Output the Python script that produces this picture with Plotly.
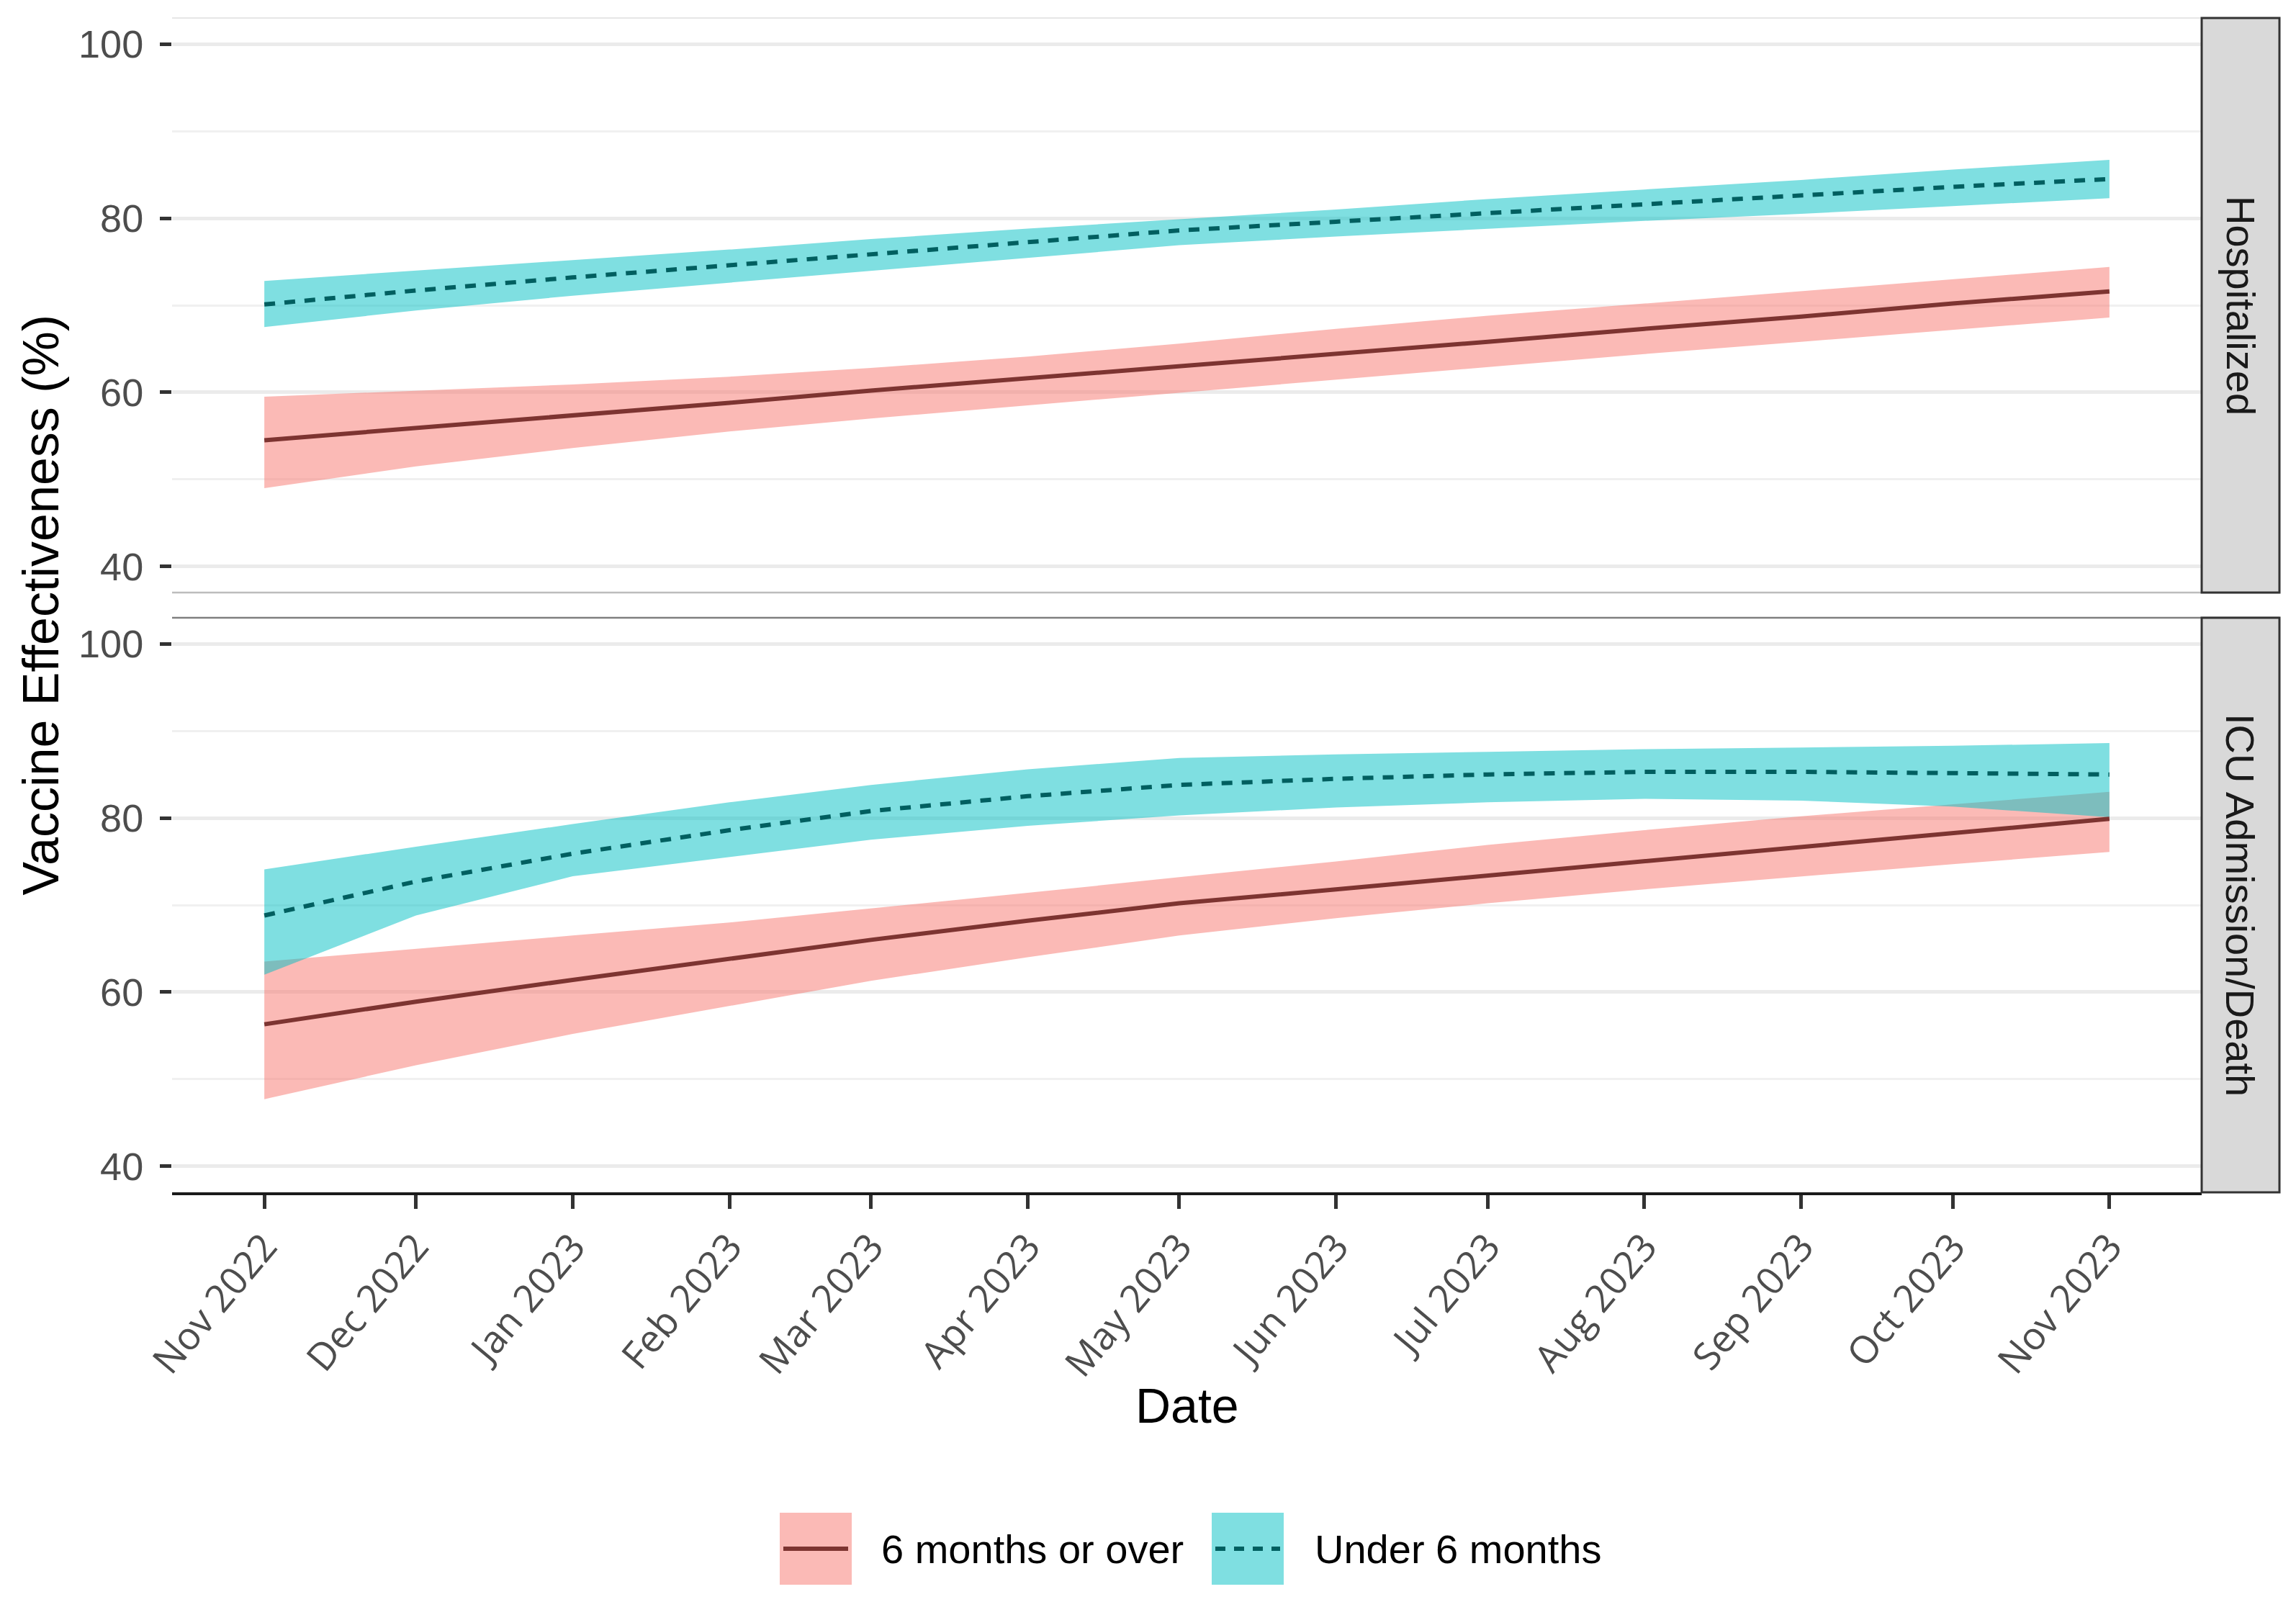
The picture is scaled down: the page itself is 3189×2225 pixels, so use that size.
import plotly.graph_objects as go

# ---------------- data ----------------
dates = ["2022-11-01", "2022-12-01", "2023-01-01", "2023-02-01", "2023-03-01",
         "2023-04-01", "2023-05-01", "2023-06-01", "2023-07-01", "2023-08-01",
         "2023-09-01", "2023-10-01", "2023-11-01"]
month_labels = ["Nov 2022", "Dec 2022", "Jan 2023", "Feb 2023", "Mar 2023",
                "Apr 2023", "May 2023", "Jun 2023", "Jul 2023", "Aug 2023",
                "Sep 2023", "Oct 2023", "Nov 2023"]

# Hospitalized panel
hosp_over6_est = [54.5, 55.9, 57.3, 58.8, 60.2, 61.6, 63.0, 64.4, 65.8, 67.3, 68.7, 70.2, 71.6]
hosp_over6_lo = [49.0, 51.5, 53.6, 55.5, 57.0, 58.5, 60.0, 61.5, 62.9, 64.4, 65.8, 67.2, 68.6]
hosp_over6_hi = [59.5, 60.2, 60.9, 61.8, 62.8, 64.1, 65.6, 67.3, 68.8, 70.2, 71.6, 73.0, 74.4]
hosp_under6_est = [70.1, 71.7, 73.2, 74.6, 75.9, 77.3, 78.6, 79.6, 80.6, 81.6, 82.6, 83.6, 84.5]
hosp_under6_lo = [67.5, 69.4, 71.1, 72.6, 74.0, 75.5, 76.9, 77.9, 78.8, 79.7, 80.5, 81.4, 82.3]
hosp_under6_hi = [72.8, 74.0, 75.2, 76.4, 77.6, 78.8, 79.9, 81.0, 82.2, 83.3, 84.4, 85.6, 86.7]

# ICU Admission/Death panel
icu_over6_est = [56.3, 58.9, 61.4, 63.8, 66.0, 68.2, 70.2, 71.8, 73.4, 75.1, 76.7, 78.3, 79.9]
icu_over6_lo = [47.7, 51.6, 55.2, 58.4, 61.3, 64.0, 66.5, 68.5, 70.2, 71.8, 73.3, 74.7, 76.1]
icu_over6_hi = [63.5, 65.0, 66.5, 68.0, 69.6, 71.4, 73.2, 75.0, 76.9, 78.6, 80.2, 81.6, 83.0]
icu_under6_est = [68.8, 72.7, 75.9, 78.6, 80.8, 82.5, 83.8, 84.5, 85.0, 85.3, 85.3, 85.2, 85.0]
icu_under6_lo = [62.0, 68.8, 73.3, 75.5, 77.5, 79.1, 80.3, 81.2, 81.8, 82.2, 82.0, 81.3, 80.1]
icu_under6_hi = [74.1, 76.7, 79.3, 81.8, 83.8, 85.6, 86.9, 87.3, 87.6, 87.9, 88.1, 88.3, 88.6]

series_names = ["6 months or over", "Under 6 months"]
panel_names = ["Hospitalized", "ICU Admission/Death"]
y_ticks = [40, 60, 80, 100]
y_minor = [50, 70, 90]

# ---------------- style ----------------
OFF = 8                      # browser body margin
W, H = 3189 - 2 * OFF, 2225 - 2 * OFF
RED_FILL = "rgba(248,118,109,0.5)"
TEAL_FILL = "rgba(0,191,196,0.5)"
RED_LINE = "#7D3431"
TEAL_LINE = "#005F60"
DASH = "15px,13px"
LW = 6

def px(x):
    return (x - OFF) / W

def py(y):
    return 1 - (y - OFF) / H

PL, PR = 239, 3058          # panel left/right (px, screenshot coords)
STRIP_R = 3166
TOP_T, TOP_B = 25, 823
BOT_T, BOT_B = 858, 1656

fig = go.Figure()

def add_panel(xa, ya, over_lo, over_hi, over_est, under_lo, under_hi, under_est):
    # ribbons: red first, teal on top
    fig.add_trace(go.Scatter(x=dates, y=over_lo, mode="lines", line=dict(width=0),
                             xaxis=xa, yaxis=ya, showlegend=False, hoverinfo="skip"))
    fig.add_trace(go.Scatter(x=dates, y=over_hi, mode="lines", line=dict(width=0),
                             fill="tonexty", fillcolor=RED_FILL,
                             xaxis=xa, yaxis=ya, showlegend=False, hoverinfo="skip"))
    fig.add_trace(go.Scatter(x=dates, y=under_lo, mode="lines", line=dict(width=0),
                             xaxis=xa, yaxis=ya, showlegend=False, hoverinfo="skip"))
    fig.add_trace(go.Scatter(x=dates, y=under_hi, mode="lines", line=dict(width=0),
                             fill="tonexty", fillcolor=TEAL_FILL,
                             xaxis=xa, yaxis=ya, showlegend=False, hoverinfo="skip"))
    fig.add_trace(go.Scatter(x=dates, y=over_est, mode="lines", name=series_names[0],
                             line=dict(color=RED_LINE, width=LW),
                             xaxis=xa, yaxis=ya, showlegend=False))
    fig.add_trace(go.Scatter(x=dates, y=under_est, mode="lines", name=series_names[1],
                             line=dict(color=TEAL_LINE, width=LW, dash=DASH),
                             xaxis=xa, yaxis=ya, showlegend=False))

add_panel("x2", "y2", hosp_over6_lo, hosp_over6_hi, hosp_over6_est,
          hosp_under6_lo, hosp_under6_hi, hosp_under6_est)
add_panel("x", "y", icu_over6_lo, icu_over6_hi, icu_over6_est,
          icu_under6_lo, icu_under6_hi, icu_under6_est)

xrange = ["2022-10-13 18:00", "2023-11-19 06:00"]

yax_common = dict(
    range=[37, 103], tickvals=y_ticks, ticks="outside", ticklen=16, tickwidth=4.5,
    tickcolor="#333333", showgrid=True, gridcolor="#EBEBEB", gridwidth=4.5,
    zeroline=False, showline=False, automargin=False, ticklabelstandoff=12,
    tickfont=dict(family="Liberation Sans, Arial", size=54, color="#4D4D4D"),
    minor=dict(tickvals=y_minor, showgrid=True, gridcolor="#F0F0F0", gridwidth=2.5, ticks=""),
    fixedrange=True,
)

fig.update_layout(
    width=W, height=H, autosize=False,
    margin=dict(l=0, r=0, t=0, b=0),
    paper_bgcolor="white", plot_bgcolor="white",
    showlegend=False,
    xaxis=dict(
        domain=[px(PL), px(PR)], anchor="y", type="date", range=xrange,
        tickvals=dates, ticktext=month_labels, tickangle=-50,
        ticks="outside", ticklen=19, tickwidth=4.5, tickcolor="#333333",
        showline=True, linecolor="#1A1A1A", linewidth=4,
        showgrid=False, zeroline=False, automargin=False,
        tickfont=dict(family="Open Sans", size=53, color="#4D4D4D"),
    ),
    xaxis2=dict(
        domain=[px(PL), px(PR)], anchor="y2", type="date", range=xrange,
        matches="x", showticklabels=False, ticks="", showline=False,
        showgrid=False, zeroline=False, automargin=False,
    ),
    yaxis=dict(domain=[py(BOT_B), py(BOT_T)], anchor="x", **yax_common),
    yaxis2=dict(domain=[py(TOP_B), py(TOP_T)], anchor="x2", **yax_common),
)

shapes = []
# panel separators
shapes.append(dict(type="line", xref="paper", yref="paper", x0=px(PL), x1=px(STRIP_R),
                   y0=py(TOP_T), y1=py(TOP_T), line=dict(color="#E6E6E6", width=2)))
shapes.append(dict(type="line", xref="paper", yref="paper", x0=px(PL), x1=px(STRIP_R),
                   y0=py(TOP_B), y1=py(TOP_B), line=dict(color="#BDBDBD", width=2.5)))
shapes.append(dict(type="line", xref="paper", yref="paper", x0=px(PL), x1=px(STRIP_R),
                   y0=py(BOT_T), y1=py(BOT_T), line=dict(color="#7F7F7F", width=2.5)))
# strips
for (t, b) in [(TOP_T, TOP_B), (BOT_T, BOT_B)]:
    shapes.append(dict(type="rect", xref="paper", yref="paper", x0=px(PR), x1=px(STRIP_R),
                       y0=py(b), y1=py(t), fillcolor="#D9D9D9",
                       line=dict(color="#333333", width=3), layer="above"))
# legend keys
LEG_T, LEG_B = 2101, 2201
LEG_MID = (LEG_T + LEG_B) / 2
for (x0, fillc, linec, dash) in [(1083, RED_FILL, RED_LINE, "solid"), (1683, TEAL_FILL, TEAL_LINE, "14px,12px")]:
    shapes.append(dict(type="rect", xref="paper", yref="paper", x0=px(x0), x1=px(x0 + 100),
                       y0=py(LEG_B), y1=py(LEG_T), fillcolor=fillc, line=dict(width=0)))
    shapes.append(dict(type="line", xref="paper", yref="paper", x0=px(x0 + 5), x1=px(x0 + 95),
                       y0=py(LEG_MID), y1=py(LEG_MID), line=dict(color=linec, width=LW, dash=dash)))
fig.update_layout(shapes=shapes)

annos = []
annos.append(dict(text=panel_names[0], xref="paper", yref="paper", x=px((PR + STRIP_R) / 2),
                  y=py((TOP_T + TOP_B) / 2), showarrow=False, textangle=90,
                  font=dict(family="Liberation Sans, Arial", size=56, color="#1A1A1A"),
                  xanchor="center", yanchor="middle"))
annos.append(dict(text=panel_names[1], xref="paper", yref="paper", x=px((PR + STRIP_R) / 2),
                  y=py((BOT_T + BOT_B) / 2), showarrow=False, textangle=90,
                  font=dict(family="Liberation Sans, Arial", size=56, color="#1A1A1A"),
                  xanchor="center", yanchor="middle"))
annos.append(dict(text="Vaccine Effectiveness (%)", xref="paper", yref="paper", x=px(57),
                  y=py((TOP_T + BOT_B) / 2), showarrow=False, textangle=-90,
                  font=dict(family="Liberation Sans, Arial", size=70, color="black"),
                  xanchor="center", yanchor="middle"))
annos.append(dict(text="Date", xref="paper", yref="paper", x=px((PL + PR) / 2),
                  y=py(1952), showarrow=False,
                  font=dict(family="Liberation Sans, Arial", size=68, color="black"),
                  xanchor="center", yanchor="middle"))
annos.append(dict(text=series_names[0], xref="paper", yref="paper", x=px(1222),
                  y=py(LEG_MID), showarrow=False, xanchor="left", yanchor="middle",
                  font=dict(family="Liberation Sans, Arial", size=56, color="black")))
annos.append(dict(text=series_names[1], xref="paper", yref="paper", x=px(1824),
                  y=py(LEG_MID), showarrow=False, xanchor="left", yanchor="middle",
                  font=dict(family="Liberation Sans, Arial", size=56, color="black")))
fig.update_layout(annotations=annos)

fig.write_html("out.html")
